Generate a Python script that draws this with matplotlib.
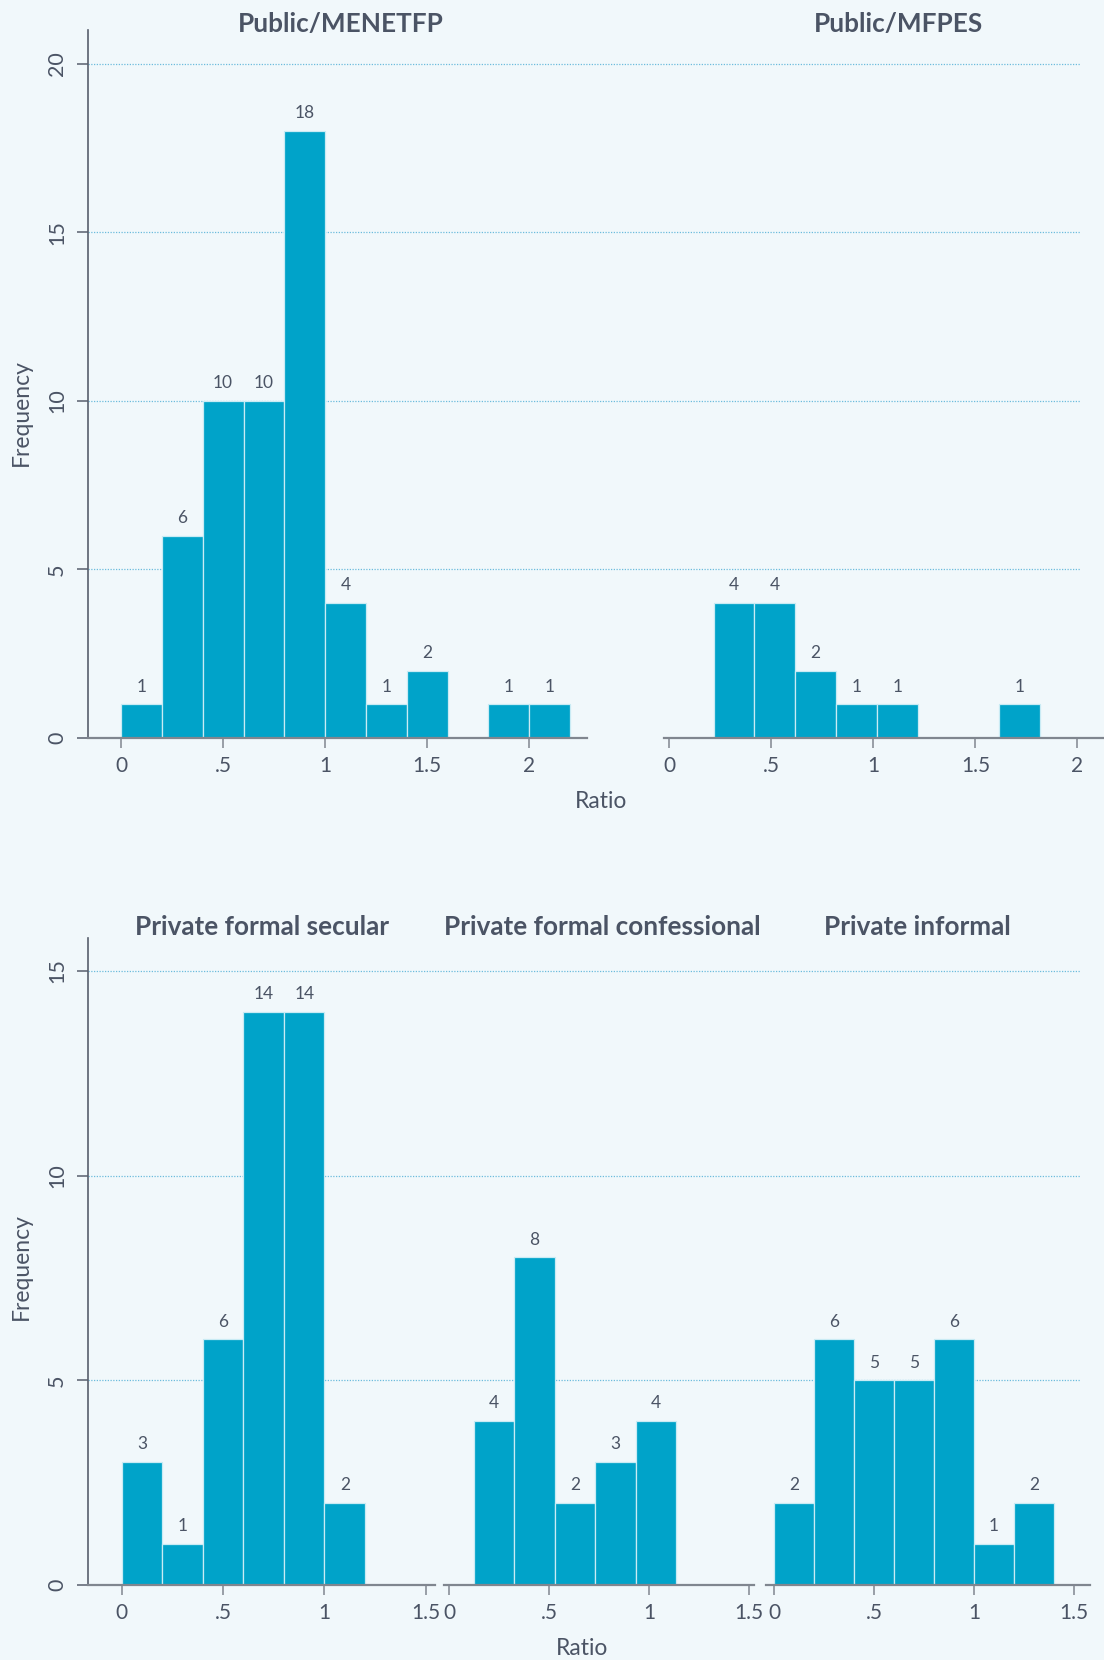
import matplotlib.pyplot as plt
import numpy as np

plt.rcParams['font.family'] = ['Lato', 'DejaVu Sans']

# counts per bin, bin start and bin width for each group
menetfp_counts = [1, 6, 10, 10, 18, 4, 1, 2, 0, 1, 1]
menetfp_start, menetfp_width = 0.0, 0.2
mfpes_counts = [4, 4, 2, 1, 1, 0, 0, 1]
mfpes_start, mfpes_width = 0.218, 0.2
secular_counts = [3, 1, 6, 14, 14, 2]
secular_start, secular_width = 0.0, 0.2
confess_counts = [4, 8, 2, 3, 4]
confess_start, confess_width = 0.123, 0.2025
informal_counts = [2, 6, 5, 5, 6, 1, 2]
informal_start, informal_width = 0.0, 0.2

top_titles = ['Public/MENETFP', 'Public/MFPES']
bottom_titles = ['Private formal secular', 'Private formal confessional', 'Private informal']
top_xticks = [0, 0.5, 1, 1.5, 2]
bottom_xticks = [0, 0.5, 1, 1.5]
xtick_labels = {0: '0', 0.5: '.5', 1: '1', 1.5: '1.5', 2: '2'}
top_yticks = [0, 5, 10, 15, 20]
bottom_yticks = [0, 5, 10, 15]

BG = '#f1f8fb'
BAR = '#00a3c9'
BAR_EDGE = '#c9ebf4'
TXT = '#4b5465'
GRID = '#6cbcdc'
YSPINE = '#585f6d'
XSPINE = '#80868f'

W, H = 1104, 1660
fig = plt.figure(figsize=(W / 100, H / 100), dpi=100, facecolor=BG)


def px_axes(x0, x1, ytop, ybot, **kw):
    return fig.add_axes([x0 / W, 1 - ybot / H, (x1 - x0) / W, (ybot - ytop) / H], **kw)


def grid_layer(x0, x1, ytop, ybot, ylim, levels):
    g = px_axes(x0, x1, ytop, ybot)
    g.set_ylim(*ylim)
    g.set_xlim(0, 1)
    g.axis('off')
    for lv in levels:
        g.axhline(lv, color=GRID, lw=0.9, ls=(0, (1, 1.2)), zorder=0)
    return g


def hist_panel(x0, x1, ytop, ybot, xlim, ylim, counts, start, width, xticks, yticks=None):
    ax = px_axes(x0, x1, ytop, ybot)
    ax.patch.set_alpha(0)
    edges = start + width * np.arange(len(counts))
    bars = ax.bar(edges, counts, width=width, align='edge', color=BAR,
                  edgecolor=BAR_EDGE, linewidth=0.9, zorder=2)
    ax.bar_label(bars, labels=[str(c) if c else '' for c in counts],
                 padding=7, fontsize=12.5, color=TXT)
    ax.set_xlim(*xlim)
    ax.set_ylim(*ylim)
    for s in ['top', 'right']:
        ax.spines[s].set_visible(False)
    ax.spines['bottom'].set_color(XSPINE)
    ax.spines['bottom'].set_linewidth(1.6)
    ax.spines['bottom'].set_zorder(3)
    ax.set_xticks(xticks)
    ax.set_xticklabels([xtick_labels[t] for t in xticks])
    ax.tick_params(axis='x', length=7, width=1.1, color=XSPINE, labelsize=15,
                   labelcolor=TXT, pad=6)
    if yticks is None:
        ax.spines['left'].set_visible(False)
        ax.set_yticks([])
    else:
        ax.spines['left'].set_color(YSPINE)
        ax.spines['left'].set_linewidth(1.2)
        ax.set_yticks(yticks)
        ax.set_yticklabels([str(t) for t in yticks], rotation=90, va='center')
        ax.tick_params(axis='y', length=8, width=1.1, color=YSPINE, labelsize=15.5,
                       labelcolor=TXT, pad=7)
    return ax


# top row: public schools
grid_layer(88, 1081, 30, 738, (0, 21), top_yticks[1:])
hist_panel(88, 587, 30, 738, (-0.162, 2.283), (0, 21),
           menetfp_counts, menetfp_start, menetfp_width, top_xticks, top_yticks)
hist_panel(664, 1104, 30, 738, (-0.025, 2.13), (0, 21),
           mfpes_counts, mfpes_start, mfpes_width, top_xticks)

# bottom row: private schools
grid_layer(88, 1081, 938, 1585, (0, 15.8), bottom_yticks[1:])
hist_panel(88, 435, 938, 1585, (-0.166, 1.545), (0, 15.8),
           secular_counts, secular_start, secular_width, bottom_xticks, bottom_yticks)
hist_panel(444, 754, 938, 1585, (-0.025, 1.525), (0, 15.8),
           confess_counts, confess_start, confess_width, bottom_xticks)
hist_panel(766, 1090, 938, 1585, (-0.04, 1.58), (0, 15.8),
           informal_counts, informal_start, informal_width, bottom_xticks)

title_kw = dict(fontsize=18.8, fontweight='bold', color=TXT, ha='center', va='center')
for title, xc in zip(top_titles, [341, 898]):
    fig.text(xc / W, 1 - 24 / H, title, **title_kw)
for title, xc in zip(bottom_titles, [262, 602, 917]):
    fig.text(xc / W, 1 - 927 / H, title, **title_kw)

lab_kw = dict(fontsize=16.5, color=TXT, ha='center', va='center')
fig.text(601 / W, 1 - 801 / H, 'Ratio', **lab_kw)
fig.text(582 / W, 1 - 1648 / H, 'Ratio', **lab_kw)
fig.text(21 / W, 1 - 413 / H, 'Frequency', rotation=90, **lab_kw)
fig.text(21 / W, 1 - 1267 / H, 'Frequency', rotation=90, **lab_kw)

fig.savefig('out.png', dpi=100, facecolor=BG)
